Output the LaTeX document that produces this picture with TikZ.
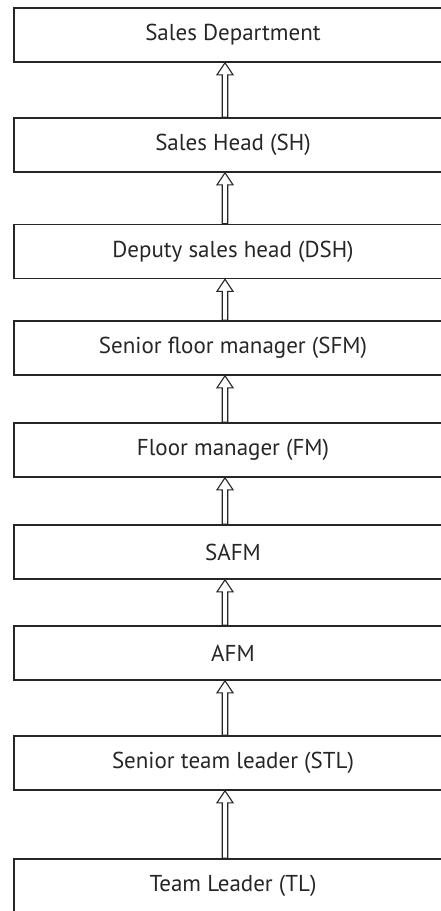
\documentclass[tikz,border=0pt]{standalone}
\usepackage{fontspec}
\setmainfont{PT Sans}
\usetikzlibrary{calc}

\begin{document}
\begin{tikzpicture}[
    x=1pt,y=-1pt,
    level/.style={draw=black!85,line width=1.6pt,minimum width=438pt,
        minimum height=54pt,inner sep=0pt,text=black!85,
        font=\fontsize{23}{27}\selectfont},
    liftarrow/.style={draw=black!85,line width=1.1pt,fill=white,line join=miter},
]
\clip (0,0) rectangle (441,911);

% === ranks, top to bottom ===
\node[level] (dept) at (233,35)    {Sales Department};
\node[level] (sh)   at (233,145)   {Sales Head (SH)};
\node[level] (dsh)  at (233,251.5) {Deputy sales head (DSH)};
\node[level] (sfm)  at (233,348)   {Senior floor manager (SFM)};
\node[level] (fm)   at (233,450)   {Floor manager (FM)};
\node[level] (safm) at (233,552)   {SAFM};
\node[level] (afm)  at (233,653)   {AFM};
\node[level] (stl)  at (233,763)   {Senior team leader (STL)};
\node[level] (tl)   at (233,886)   {Team Leader (TL)};

% === hollow arrows up the ladder ===
\coordinate (spine) at (225,0);
\foreach \lo/\hi in {sh/dept,dsh/sh,sfm/dsh,fm/sfm,safm/fm,afm/safm,stl/afm,tl/stl}
    \draw[liftarrow] let \p1=(spine |- \lo.north), \p2=(spine |- \hi.south) in
        (\x1-2.75pt,\y1) -- (\x1-2.75pt,\y2-12pt) -- (\x1-8pt,\y2-12pt)
        -- (\x2,\y2) -- (\x1+8pt,\y2-12pt) -- (\x1+2.75pt,\y2-12pt)
        -- (\x1+2.75pt,\y1) -- cycle;
\end{tikzpicture}
\end{document}
